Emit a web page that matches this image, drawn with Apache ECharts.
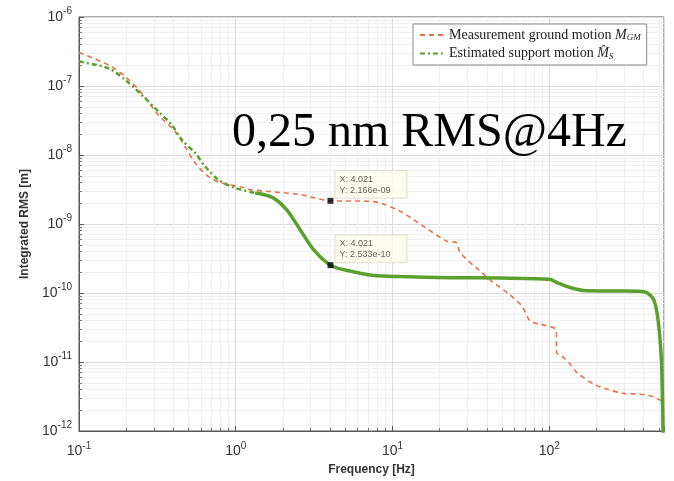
<!DOCTYPE html>
<html>
<head>
<meta charset="utf-8">
<script src="https://cdn.jsdelivr.net/npm/echarts@6/dist/echarts.min.js"></script>
<style>
html, body { margin: 0; padding: 0; background: #fff; }
#main { width: 674px; height: 481px; }
</style>
</head>
<body>
<div id="main"></div>
<script>
// measured ground motion (red dashed), [Hz, m]
var groundFreq = [0.1, 0.154, 0.197, 0.251, 0.321, 0.41, 0.474, 0.55, 0.668, 0.814, 1.15, 1.23, 2.57, 4.021, 6.86, 8.34, 11.2, 13.6, 22.2, 25.7, 27, 36.2, 43.9, 53.6, 66.8, 75.5, 87.5, 106, 111, 111.5, 120, 136, 150, 192, 233, 298, 362, 441, 523];
var groundRms = [3.05e-7, 2.02e-7, 1.37e-7, 7.9e-8, 3.8e-8, 2.2e-8, 1.33e-8, 7.7e-9, 4.9e-9, 3.94e-9, 3.33e-9, 3.15e-9, 2.67e-9, 2.166e-9, 2.14e-9, 2.02e-9, 1.53e-9, 1.16e-9, 5.65e-10, 5.35e-10, 3.84e-10, 2.08e-10, 1.43e-10, 1.02e-10, 6.5e-11, 3.93e-11, 3.52e-11, 3.16e-11, 2.82e-11, 1.37e-11, 1.23e-11, 9.3e-12, 7.06e-12, 4.79e-12, 4.05e-12, 3.51e-12, 3.43e-12, 3.24e-12, 2.74e-12];

// estimated support motion (green): dashed part at low frequency
var supportFreqLow = [0.1, 0.154, 0.197, 0.251, 0.321, 0.39, 0.452, 0.55, 0.637, 0.774, 0.99, 1.33];
var supportRmsLow = [2.26e-7, 1.81e-7, 1.23e-7, 7.45e-8, 4.28e-8, 2.75e-8, 1.67e-8, 1.07e-8, 6.85e-9, 4.4e-9, 3.33e-9, 2.82e-9];
// dense part, drawn as a thick line
var supportFreqHigh = [1.33, 1.43, 1.74, 2.11, 2.57, 3.13, 4.021, 5.36, 7.55, 11.2, 23.4, 48.6, 101, 112, 136, 165, 270, 380, 420, 463, 491, 511, 523, 535];
var supportRmsHigh = [2.82e-9, 2.75e-9, 2.39e-9, 1.62e-9, 8.34e-10, 4.28e-10, 2.533e-10, 2.08e-10, 1.8e-10, 1.73e-10, 1.67e-10, 1.65e-10, 1.58e-10, 1.41e-10, 1.2e-10, 1.09e-10, 1.07e-10, 1.06e-10, 1.01e-10, 8.1e-11, 4.65e-11, 1.94e-11, 7.9e-12, 5e-13];

// data tips
var tipFreq = [4.021, 4.021];
var tipRms = [2.166e-9, 2.533e-10];
var tipText = ['X: 4.021\nY: 2.166e-09', 'X: 4.021\nY: 2.533e-10'];

var redColor = '#e8704a';
var greenColor = '#5aa02c';

function pairs(xs, ys) {
  var out = [];
  for (var i = 0; i < xs.length; i++) out.push([xs[i], ys[i]]);
  return out;
}

var tipData = [];
for (var i = 0; i < tipFreq.length; i++) {
  tipData.push({ value: [tipFreq[i], tipRms[i]], label: { formatter: tipText[i] } });
}

function powLabel(v) {
  var e = Math.log10(v);
  if (Math.abs(e - Math.round(e)) > 1e-6) return '';
  return '{b|10}{s|' + Math.round(e) + '}';
}
var powRich = {
  b: { fontSize: 14, color: '#333', fontFamily: 'Liberation Sans' },
  s: { fontSize: 10, color: '#333', fontFamily: 'Liberation Sans', padding: [0, 0, 11, 0] }
};

var myChart = echarts.init(document.getElementById('main'));
var option = {
  backgroundColor: '#fff',
  animation: false,
  grid: { left: 79, right: 10, top: 17, bottom: 49, show: true, borderColor: '#555', borderWidth: 1 },
  legend: {
    left: 413, top: 24,
    orient: 'vertical',
    itemGap: 4,
    itemWidth: 24,
    itemHeight: 10,
    padding: [4, 6, 4, 6],
    backgroundColor: '#fff',
    borderColor: '#888',
    borderWidth: 1,
    borderRadius: 0,
    data: [
      { name: 'Measurement ground motion', itemStyle: { opacity: 0 } },
      { name: 'Estimated support motion', itemStyle: { opacity: 0 } }
    ],
    formatter: function (name) {
      if (name === 'Measurement ground motion') return '{t|Measurement ground motion }{m|M}{sub|GM}';
      return '{t|Estimated support motion }{m|M\u0302}{sub|S}';
    },
    textStyle: {
      fontFamily: 'Liberation Serif', fontSize: 14, color: '#222',
      rich: {
        t: { fontFamily: 'Liberation Serif', fontSize: 14, color: '#222' },
        m: { fontFamily: 'Liberation Serif', fontStyle: 'italic', fontSize: 14, color: '#222' },
        sub: { fontFamily: 'Liberation Serif', fontStyle: 'italic', fontSize: 9, color: '#222', padding: [6, 0, 0, 0] }
      }
    }
  },
  xAxis: {
    type: 'log',
    min: 0.1, max: 540,
    name: 'Frequency [Hz]',
    nameLocation: 'middle',
    nameGap: 33,
    nameTextStyle: { fontFamily: 'Liberation Sans', fontWeight: 'bold', fontSize: 12, color: '#333' },
    axisLine: { lineStyle: { color: '#555' } },
    axisTick: { inside: true, length: 5, lineStyle: { color: '#555' } },
    minorTick: { show: true, splitNumber: 9, length: 3, lineStyle: { color: '#777' } },
    axisLabel: { formatter: powLabel, rich: powRich, margin: 10, showMaxLabel: false },
    splitLine: { show: true, lineStyle: { color: '#dcdcdc' } },
    minorSplitLine: { show: true, lineStyle: { color: '#f0f0f0' } }
  },
  yAxis: {
    type: 'log',
    min: 1e-12, max: 1e-6,
    name: 'Integrated RMS [m]',
    nameLocation: 'middle',
    nameGap: 42,
    nameTextStyle: { fontFamily: 'Liberation Sans', fontWeight: 'bold', fontSize: 12, color: '#333' },
    axisLine: { lineStyle: { color: '#555' } },
    axisTick: { inside: true, length: 5, lineStyle: { color: '#555' } },
    minorTick: { show: true, splitNumber: 9, length: 3, lineStyle: { color: '#777' } },
    axisLabel: { formatter: powLabel, rich: powRich, margin: 7 },
    splitLine: { show: true, lineStyle: { color: '#dcdcdc' } },
    minorSplitLine: { show: true, lineStyle: { color: '#f0f0f0' } }
  },
  graphic: [{
    type: 'text',
    left: 232, top: 109,
    style: { text: '0,25 nm RMS@4Hz', font: '48px "Liberation Serif"', fill: '#000' },
    z: 100
  }],
  series: [{
    name: 'Measurement ground motion',
    type: 'line',
    data: pairs(groundFreq, groundRms),
    symbol: 'none',
    smooth: 0.3,
    lineStyle: { color: redColor, width: 1.6, type: [5, 4] },
    itemStyle: { color: redColor },
    z: 3
  }, {
    name: 'Estimated support motion',
    type: 'line',
    data: pairs(supportFreqLow, supportRmsLow),
    symbol: 'none',
    smooth: 0.3,
    lineStyle: { color: greenColor, width: 2.5, type: [5, 3, 2, 3] },
    itemStyle: { color: greenColor },
    z: 4
  }, {
    name: 'support dense',
    type: 'line',
    data: pairs(supportFreqHigh, supportRmsHigh),
    symbol: 'none',
    smooth: 0.3,
    lineStyle: { color: greenColor, width: 3.5 },
    itemStyle: { color: greenColor },
    z: 4
  }, {
    name: 'tips',
    type: 'scatter',
    data: tipData,
    symbol: 'rect',
    symbolSize: 6,
    itemStyle: { color: '#000' },
    z: 10,
    label: {
      show: true,
      position: [8, -27],
      fontFamily: 'Liberation Sans',
      fontSize: 9,
      lineHeight: 11,
      color: '#333',
      backgroundColor: '#fffdea',
      borderColor: '#d8d8c8',
      borderWidth: 1,
      padding: [3, 16, 2, 4]
    }
  }]
};
myChart.setOption(option);
</script>
</body>
</html>
